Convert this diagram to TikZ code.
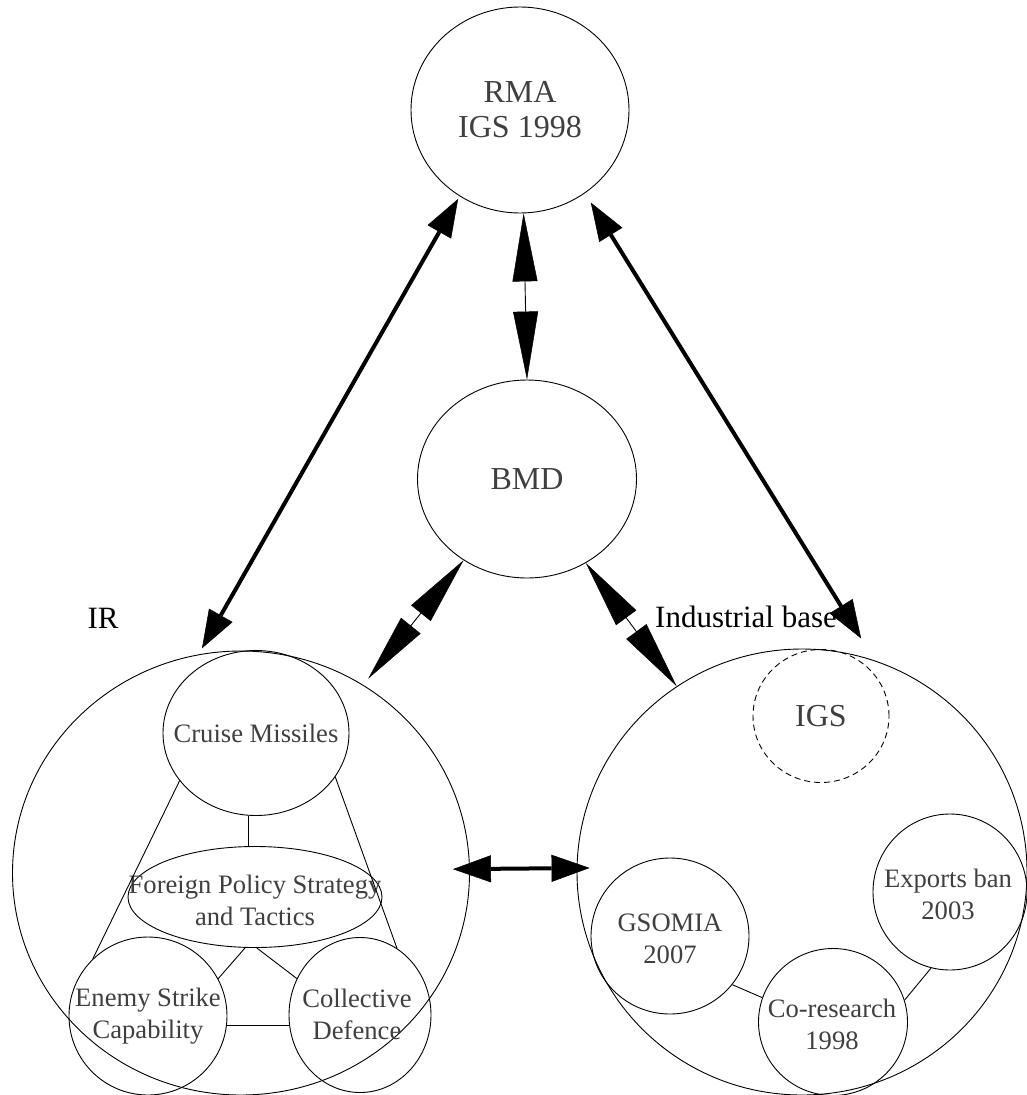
\documentclass[tikz,border=0pt]{standalone}
\usepackage{fontspec}
\setmainfont{Liberation Serif}
\usepackage{tikz}
\usetikzlibrary{arrows.meta,shapes.geometric}
\definecolor{txtgray}{HTML}{3F3F3F}
\tikzset{
  bubble/.style={ellipse, draw, line width=0.9pt, inner sep=0pt},
  dashbubble/.style={bubble, dash pattern=on 6pt off 4pt},
  txt/.style={align=center, text=txtgray, inner sep=0pt,
    font=\fontsize{26.6}{32}\selectfont},
  bigtxt/.style={txt, font=\fontsize{32}{35}\selectfont},
  grouplabel/.style={inner sep=0pt, font=\fontsize{31}{36}\selectfont},
  link/.style={line width=0.9pt},
  boldarr/.style={{Triangle[length=38pt,width=27pt,line width=0.5pt]}-{Triangle[length=38pt,width=27pt,line width=0.5pt]},
    line width=4pt},
  longarr/.style={{Triangle[length=68pt,width=25pt,line width=0.5pt]}-{Triangle[length=68pt,width=25pt,line width=0.5pt]},
    line width=0.9pt}
}
\begin{document}
\begin{tikzpicture}[x=1pt,y=-1pt]
  \useasboundingbox (0,0) rectangle (1027,1095);
  \node[bubble, minimum width=218pt, minimum height=206pt] (rma) at (520,110) {};
  \node[bigtxt] at (rma) {RMA\\IGS 1998};
  \node[bubble, minimum width=219pt, minimum height=198pt] (bmd) at (527,479) {};
  \node[bigtxt] at (bmd) {BMD};

  % IR group
  \node[bubble, minimum width=457pt, minimum height=444pt] (ir) at (241,873) {};
  \node[grouplabel] (irlabel) at (103,618) {IR};
  \node[bubble, minimum width=186pt, minimum height=165pt] (cruise) at (256,733) {};
  \node[txt] at (cruise) {Cruise Missiles};
  \node[bubble, minimum width=254pt, minimum height=101pt] (fps) at (255,897) {};
  \node[txt] at (255,900) {Foreign Policy Strategy\\and Tactics};
  \node[bubble, minimum width=158pt, minimum height=158pt] (enemy) at (148,1016) {};
  \node[txt] at (enemy) {Enemy Strike\\Capability};
  \node[bubble, minimum width=142pt, minimum height=155pt] (coll) at (360,1015) {};
  \node[txt] at (357,1014) {Collective\\Defence};

  % industrial base group
  \node[bubble, minimum width=450pt, minimum height=446pt] (ib) at (802,872) {};
  \node[grouplabel] (iblabel) at (746,617) {Industrial base};
  \node[dashbubble, minimum width=136pt, minimum height=133pt] (igs) at (821,716) {};
  \node[bigtxt] at (igs) {IGS};
  \node[bubble, minimum width=158pt, minimum height=156pt] (gsomia) at (670,936) {};
  \node[txt] at (670,939) {GSOMIA\\2007};
  \node[bubble, minimum width=149pt, minimum height=147pt] (cores) at (833,1022) {};
  \node[txt] at (832,1024) {Co-research\\1998};
  \node[bubble, minimum width=154pt, minimum height=156pt] (exports) at (950,892) {};
  \node[txt] at (948,894) {Exports ban\\2003};

  \draw[boldarr, shorten <=3pt, shorten >=7pt] (rma.235) -- (ir.101);
  \draw[boldarr, shorten <=11pt, shorten >=26pt] (rma.308) -- (ib.71);
  \draw[boldarr, shorten <=-17pt, shorten >=-13pt] (ir.1) -- (ib.179);
  \draw[longarr] (rma.272) -- (bmd.north);
  \draw[longarr, shorten >=8pt] (bmd.232) -- (ir.57);
  \draw[longarr] (bmd.305) -- (ib.124);

  \draw[link] (cruise.212) -- (enemy.134);
  \draw[link] (cruise.331) -- (coll.61);
  \draw[link] (cruise.265) -- (cruise.265 |- fps.north);
  \draw[link] (fps.259) -- (enemy.28);
  \draw[link] (fps.272) -- (coll.150);
  \draw[link] (enemy.-7) -- (enemy.-7 -| coll.west);
  \draw[link] (gsomia.322) -- (cores.161);
  \draw[link] (cores.17) -- (exports.256);
\end{tikzpicture}
\end{document}
